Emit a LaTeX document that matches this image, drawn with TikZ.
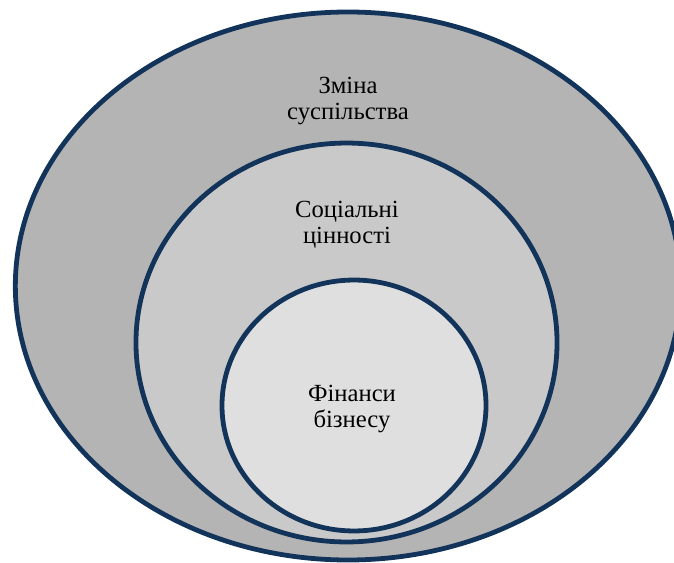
\documentclass[tikz,border=0pt]{standalone}
\usepackage{fontspec}
\setmainfont{Liberation Serif}
\definecolor{ringline}{HTML}{13345A}
\definecolor{outergray}{HTML}{B4B4B4}
\definecolor{middlegray}{HTML}{C9C9C9}
\definecolor{innergray}{HTML}{DFDFDF}

\begin{document}
\begin{tikzpicture}[x=0.75pt, y=-0.75pt,
    ring/.style={draw=ringline, line width=3.6pt},
    lbl/.style={align=center, font=\fontspec{Liberation Serif}\fontsize{18.5}{19.5}\selectfont}]
  \clip (0,0) rectangle (674,563);
  \fill[white] (0,0) rectangle (674,563);

  % outer ring
  \draw[ring, fill=outergray] (348,286) ellipse [x radius=249.5pt, y radius=205.5pt];
  \node[lbl] (society) at (348,100.5) {Зміна\\суспільства};

  % middle ring
  \draw[ring, fill=middlegray] (346.5,342.5) ellipse [x radius=157.9pt, y radius=149.6pt];
  \node[lbl] (values) at (347,224.5) {Соціальні\\цінності};

  % inner ring
  \draw[ring, fill=innergray] (354,405.5) ellipse [x radius=99pt, y radius=94.1pt];
  \node[lbl] (finance) at (352,408.5) {Фінанси\\бізнесу};
\end{tikzpicture}
\end{document}
